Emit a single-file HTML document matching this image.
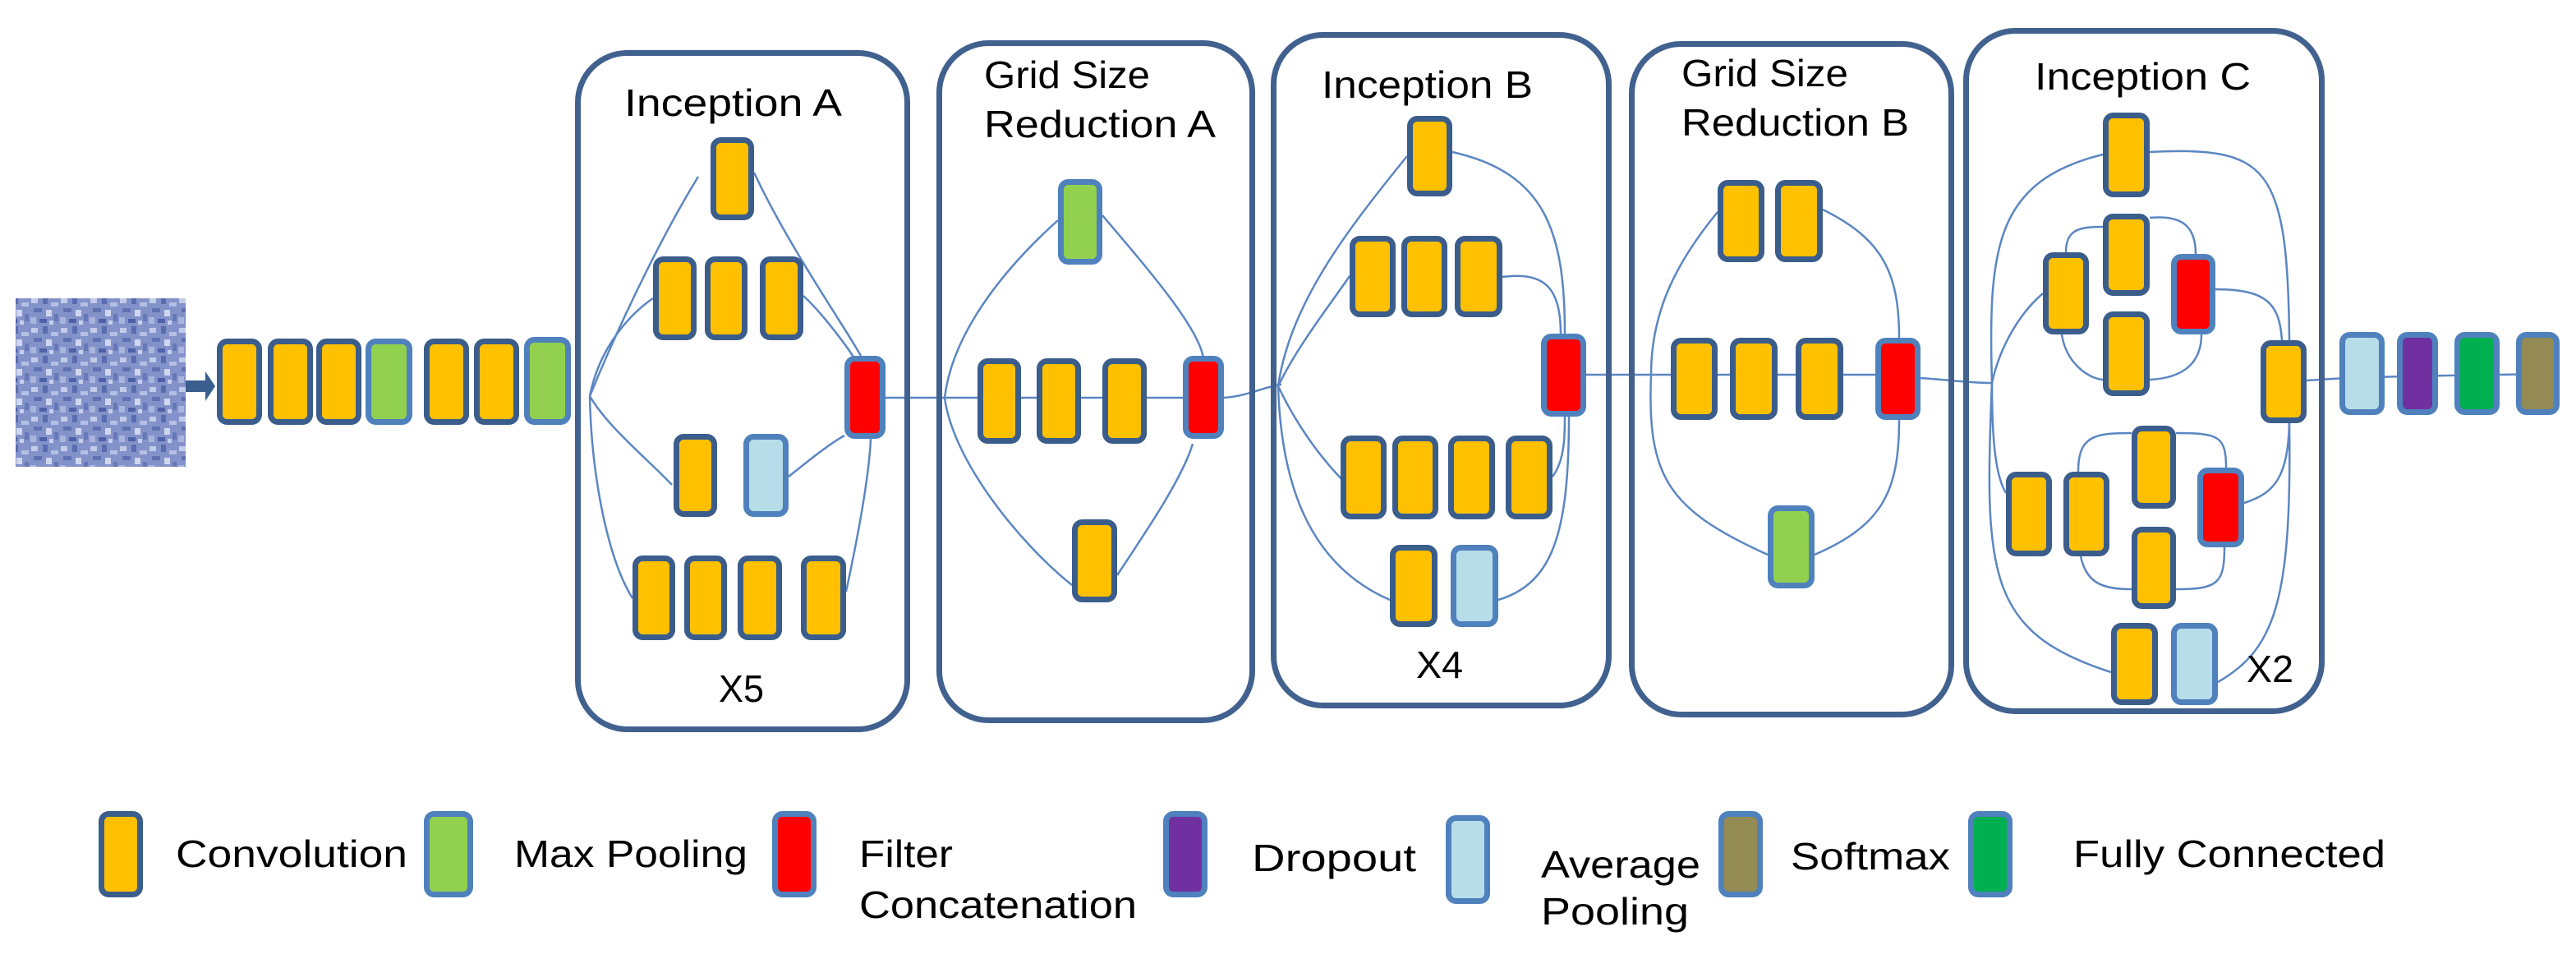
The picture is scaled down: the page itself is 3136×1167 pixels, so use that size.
<!DOCTYPE html>
<html><head><meta charset="utf-8"><style>
html,body{margin:0;padding:0;background:#fff;}
svg{display:block;}
text{font-family:"Liberation Sans",sans-serif;fill:#000;}
</style></head><body>
<svg width="3136" height="1167" viewBox="0 0 3136 1167" xmlns="http://www.w3.org/2000/svg">
<defs>
<pattern id="tex" width="36" height="36" patternUnits="userSpaceOnUse">
<rect width="36" height="36" fill="#8393c9"/>
<rect x="2" y="3" width="8" height="6" fill="#c3cbe8"/>
<rect x="16" y="1" width="6" height="9" fill="#5a6cb0"/>
<rect x="26" y="8" width="9" height="5" fill="#b4bfe3"/>
<rect x="5" y="15" width="10" height="5" fill="#5f71b3"/>
<rect x="20" y="17" width="7" height="8" fill="#d0d6ee"/>
<rect x="30" y="22" width="5" height="9" fill="#6778b8"/>
<rect x="1" y="26" width="7" height="8" fill="#aab5de"/>
<rect x="12" y="28" width="9" height="5" fill="#4e60a8"/>
<rect x="24" y="30" width="5" height="5" fill="#c7cfec"/>
</pattern>
</defs>

<rect x="19" y="363" width="207" height="205" fill="url(#tex)"/>
<path d="M226 463 H250 V452 L262 470 L250 488 V477 H226 Z" fill="#3a5f8f"/>

<g fill="none" stroke="#5b86c2" stroke-width="2.5">
<path d="M1078 484 H1440"/>
<path d="M1490 484 C1520 482 1540 470 1560 468"/>
<path d="M1931 456 H2283"/>
<path d="M2338 460 C2370 462 2395 466 2425 466"/>
<path d="M2808 463 C2830 462 2840 458 3116 455"/>

<path d="M718 482 C760 380 810 280 850 215"/>
<path d="M718 482 C730 420 770 380 795 363"/>
<path d="M718 482 C740 520 790 560 818 590"/>
<path d="M718 482 C720 580 740 680 770 728"/>
<path d="M918 210 C960 300 1030 400 1048 433"/>
<path d="M978 360 C1000 380 1030 420 1040 436"/>
<path d="M960 580 C985 560 1010 540 1028 530"/>
<path d="M1030 720 C1045 650 1058 580 1060 534"/>

<path d="M1150 484 C1160 400 1230 320 1288 268"/>
<path d="M1150 484 C1160 560 1240 660 1305 712"/>
<path d="M1342 262 C1400 330 1460 400 1465 436"/>
<path d="M1360 700 C1400 640 1440 580 1452 540"/>

<path d="M1556 470 C1570 370 1640 280 1713 190"/>
<path d="M1556 470 C1580 420 1620 370 1643 336"/>
<path d="M1556 470 C1580 520 1610 560 1640 590"/>
<path d="M1556 470 C1560 600 1600 690 1692 730"/>
<path d="M1768 185 C1880 210 1905 280 1905 406"/>
<path d="M1829 337 C1880 330 1900 350 1900 406"/>
<path d="M1890 580 C1905 560 1905 530 1905 507"/>
<path d="M1824 730 C1890 710 1910 650 1910 507"/>

<path d="M2010 456 C2010 380 2040 320 2091 258"/>
<path d="M2010 456 C2005 580 2030 620 2152 675"/>
<path d="M2219 255 C2290 290 2312 330 2312 411"/>
<path d="M2209 675 C2290 640 2312 600 2312 511"/>

<path d="M2425 466 C2420 300 2430 220 2560 188"/>
<path d="M2425 466 C2435 420 2460 380 2487 357"/>
<path d="M2425 466 C2425 540 2430 580 2442 600"/>
<path d="M2425 466 C2415 700 2420 770 2570 818"/>
<path d="M2617 185 C2760 178 2785 200 2787 414"/>
<path d="M2515 307 C2515 280 2530 276 2560 276"/>
<path d="M2510 407 C2515 440 2540 460 2560 462"/>
<path d="M2617 265 C2650 262 2673 270 2673 309"/>
<path d="M2617 462 C2660 460 2680 440 2680 407"/>
<path d="M2697 352 C2760 352 2775 370 2778 414"/>
<path d="M2530 574 C2530 530 2550 527 2595 527"/>
<path d="M2533 677 C2540 710 2560 717 2595 717"/>
<path d="M2649 527 C2700 527 2710 530 2710 569"/>
<path d="M2649 717 C2700 717 2708 710 2708 666"/>
<path d="M2732 612 C2770 600 2785 580 2787 515"/>
<path d="M2700 830 C2770 790 2790 730 2787 515"/>
</g>

<g fill="none" stroke="#41618f" stroke-width="7">
<rect x="703.5" y="64.5" width="401" height="823" rx="60"/>
<rect x="1143.5" y="52.5" width="381" height="824" rx="60"/>
<rect x="1550.5" y="42.5" width="408" height="816" rx="60"/>
<rect x="1986.5" y="53.5" width="389" height="816" rx="60"/>
<rect x="2393.5" y="37.5" width="433" height="828" rx="60"/>
</g>

<g stroke-width="7">
<g fill="#ffc000" stroke="#3b5d8b">
<rect x="267.5" y="415.5" width="48" height="98" rx="9"/>
<rect x="329.5" y="415.5" width="48" height="98" rx="9"/>
<rect x="388.5" y="415.5" width="48" height="98" rx="9"/>
<rect x="519.5" y="415.5" width="48" height="98" rx="9"/>
<rect x="580.5" y="415.5" width="48" height="98" rx="9"/>
<rect x="868.5" y="170.5" width="46" height="94" rx="9"/>
<rect x="798.5" y="315.5" width="46" height="95" rx="9"/>
<rect x="861.5" y="315.5" width="45" height="95" rx="9"/>
<rect x="928.5" y="315.5" width="46" height="95" rx="9"/>
<rect x="823.5" y="531.5" width="46" height="94" rx="9"/>
<rect x="773.5" y="679.5" width="45" height="96" rx="9"/>
<rect x="836.5" y="679.5" width="45" height="96" rx="9"/>
<rect x="901.5" y="679.5" width="47" height="96" rx="9"/>
<rect x="978.5" y="679.5" width="48" height="96" rx="9"/>
<rect x="1193.5" y="439.5" width="46" height="97" rx="9"/>
<rect x="1265.5" y="439.5" width="47" height="97" rx="9"/>
<rect x="1345.5" y="439.5" width="47" height="97" rx="9"/>
<rect x="1308.5" y="635.5" width="48" height="94" rx="9"/>
<rect x="1716.5" y="144.5" width="48" height="91" rx="9"/>
<rect x="1646.5" y="290.5" width="49" height="92" rx="9"/>
<rect x="1709.5" y="290.5" width="49" height="92" rx="9"/>
<rect x="1774.5" y="290.5" width="51" height="92" rx="9"/>
<rect x="1635.5" y="533.5" width="49" height="95" rx="9"/>
<rect x="1698.5" y="533.5" width="49" height="95" rx="9"/>
<rect x="1766.5" y="533.5" width="50" height="95" rx="9"/>
<rect x="1836.5" y="533.5" width="50" height="95" rx="9"/>
<rect x="1695.5" y="666.5" width="51" height="93" rx="9"/>
<rect x="2094.5" y="222.5" width="50" height="93" rx="9"/>
<rect x="2164.5" y="222.5" width="51" height="93" rx="9"/>
<rect x="2037.5" y="414.5" width="50" height="93" rx="9"/>
<rect x="2109.5" y="414.5" width="51" height="93" rx="9"/>
<rect x="2189.5" y="414.5" width="51" height="93" rx="9"/>
<rect x="2563.5" y="140.5" width="50" height="96" rx="9"/>
<rect x="2563.5" y="263.5" width="50" height="93" rx="9"/>
<rect x="2563.5" y="382.5" width="50" height="96" rx="9"/>
<rect x="2490.5" y="310.5" width="49" height="93" rx="9"/>
<rect x="2755.5" y="417.5" width="49" height="94" rx="9"/>
<rect x="2445.5" y="577.5" width="49" height="96" rx="9"/>
<rect x="2515.5" y="577.5" width="49" height="96" rx="9"/>
<rect x="2598.5" y="521.5" width="47" height="94" rx="9"/>
<rect x="2598.5" y="644.5" width="47" height="93" rx="9"/>
<rect x="2573.5" y="761.5" width="50" height="93" rx="9"/>
<rect x="123.5" y="990.5" width="47" height="98" rx="9"/>
</g>
<g stroke="#4f81bd">
<rect x="448.5" y="415.5" width="50" height="98" rx="9" fill="#92d050"/>
<rect x="641.5" y="413.5" width="50" height="100" rx="9" fill="#92d050"/>
<rect x="1291.5" y="221.5" width="47" height="97" rx="9" fill="#92d050"/>
<rect x="2155.5" y="618.5" width="50" height="94" rx="9" fill="#92d050"/>
<rect x="1031.5" y="436.5" width="43" height="94" rx="9" fill="#ff0000"/>
<rect x="1443.5" y="436.5" width="43" height="94" rx="9" fill="#ff0000"/>
<rect x="1879.5" y="409.5" width="48" height="94" rx="9" fill="#ff0000"/>
<rect x="2286.5" y="414.5" width="48" height="93" rx="9" fill="#ff0000"/>
<rect x="2646.5" y="312.5" width="47" height="91" rx="9" fill="#ff0000"/>
<rect x="2678.5" y="572.5" width="50" height="90" rx="9" fill="#ff0000"/>
<rect x="908.5" y="531.5" width="48" height="94" rx="9" fill="#b7dde8"/>
<rect x="1769.5" y="666.5" width="51" height="93" rx="9" fill="#b7dde8"/>
<rect x="2646.5" y="761.5" width="50" height="93" rx="9" fill="#b7dde8"/>
<rect x="2851.5" y="407.5" width="48" height="94" rx="9" fill="#b7dde8"/>
<rect x="2921.5" y="407.5" width="43" height="94" rx="9" fill="#7030a0"/>
<rect x="2991.5" y="407.5" width="48" height="94" rx="9" fill="#00b050"/>
<rect x="3066.5" y="407.5" width="46" height="94" rx="9" fill="#948a54"/>
<rect x="519.5" y="990.5" width="53" height="98" rx="9" fill="#92d050"/>
<rect x="943.5" y="990.5" width="47" height="98" rx="9" fill="#ff0000"/>
<rect x="1419.5" y="990.5" width="47" height="98" rx="9" fill="#7030a0"/>
<rect x="1763.5" y="995.5" width="47" height="101" rx="9" fill="#b7dde8"/>
<rect x="2095.5" y="990.5" width="47" height="98" rx="9" fill="#948a54"/>
<rect x="2399.5" y="990.5" width="47" height="98" rx="9" fill="#00b050"/>
</g>
</g>

<g font-size="46">
<text x="760" y="141" textLength="265" lengthAdjust="spacingAndGlyphs">Inception A</text>
<text x="1198" y="107" textLength="202" lengthAdjust="spacingAndGlyphs">Grid Size</text>
<text x="1198" y="167" textLength="282" lengthAdjust="spacingAndGlyphs">Reduction A</text>
<text x="1609" y="119" textLength="257" lengthAdjust="spacingAndGlyphs">Inception B</text>
<text x="2047" y="105" textLength="203" lengthAdjust="spacingAndGlyphs">Grid Size</text>
<text x="2047" y="165" textLength="277" lengthAdjust="spacingAndGlyphs">Reduction B</text>
<text x="2477" y="109" textLength="263" lengthAdjust="spacingAndGlyphs">Inception C</text>
<text x="875" y="854" textLength="55" lengthAdjust="spacingAndGlyphs">X5</text>
<text x="1724" y="825" textLength="57" lengthAdjust="spacingAndGlyphs">X4</text>
<text x="2735" y="830" textLength="57" lengthAdjust="spacingAndGlyphs">X2</text>
</g>

<g font-size="46">
<text x="214" y="1055" textLength="282" lengthAdjust="spacingAndGlyphs">Convolution</text>
<text x="626" y="1055" textLength="284" lengthAdjust="spacingAndGlyphs">Max Pooling</text>
<text x="1046" y="1055" textLength="114" lengthAdjust="spacingAndGlyphs">Filter</text>
<text x="1046" y="1117" textLength="338" lengthAdjust="spacingAndGlyphs">Concatenation</text>
<text x="1524" y="1060" textLength="200" lengthAdjust="spacingAndGlyphs">Dropout</text>
<text x="1876" y="1068" textLength="194" lengthAdjust="spacingAndGlyphs">Average</text>
<text x="1876" y="1125" textLength="180" lengthAdjust="spacingAndGlyphs">Pooling</text>
<text x="2180" y="1058" textLength="194" lengthAdjust="spacingAndGlyphs">Softmax</text>
<text x="2524" y="1055" textLength="380" lengthAdjust="spacingAndGlyphs">Fully Connected</text>
</g>
</svg>
</body></html>
